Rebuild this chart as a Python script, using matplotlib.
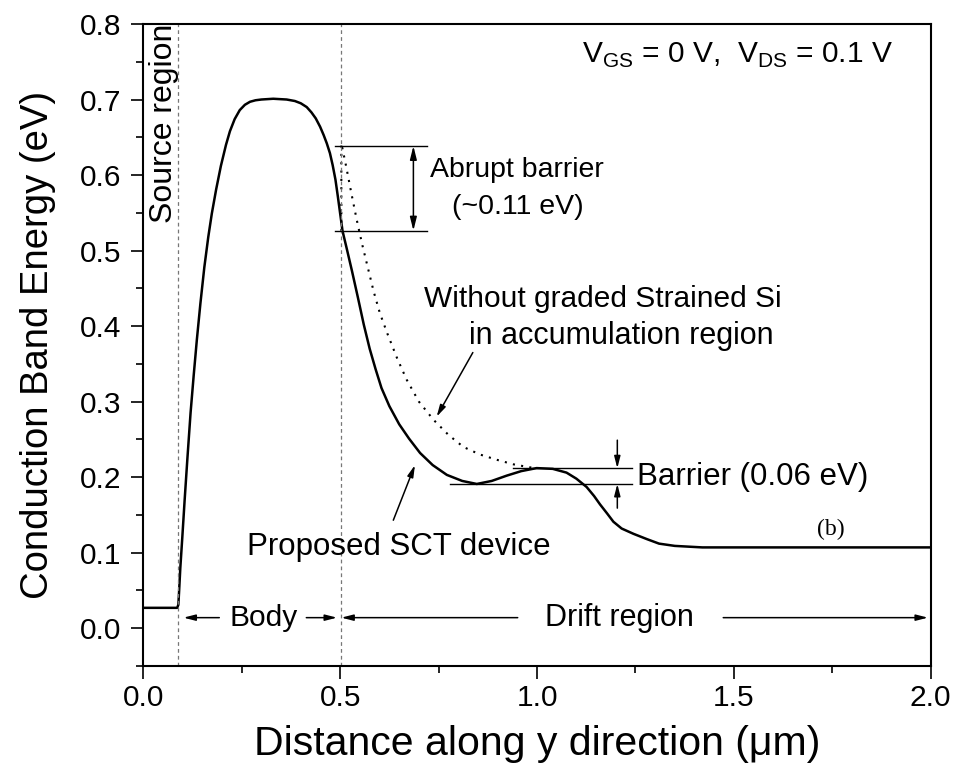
import matplotlib

matplotlib.use("Agg")
import matplotlib.pyplot as plt
from matplotlib.ticker import MultipleLocator


# proposed SCT device, conduction band edge along y (um, eV)
SCT_X = [0.0, 0.086, 0.089, 0.091, 0.094, 0.099, 0.105, 0.112, 0.120, 0.128,
         0.136, 0.145, 0.155, 0.165, 0.174, 0.185, 0.197, 0.210, 0.220, 0.232,
         0.245, 0.258, 0.271, 0.285, 0.300, 0.330, 0.364, 0.385, 0.400, 0.415,
         0.427, 0.438, 0.449, 0.458, 0.466, 0.474, 0.481, 0.488, 0.494, 0.500,
         0.506, 0.517, 0.530, 0.545, 0.560, 0.575, 0.590, 0.605, 0.625, 0.650,
         0.675, 0.703, 0.735, 0.771, 0.810, 0.847, 0.885, 0.923, 0.960, 0.999,
         1.040, 1.075, 1.100, 1.126, 1.145, 1.160, 1.178, 1.194, 1.215, 1.245,
         1.279, 1.310, 1.350, 1.420, 2.0]
SCT_Y = [0.027, 0.027, 0.031, 0.050, 0.080, 0.120, 0.170, 0.225, 0.285, 0.335,
         0.382, 0.430, 0.478, 0.518, 0.549, 0.581, 0.612, 0.640, 0.658, 0.674,
         0.686, 0.693, 0.697, 0.699, 0.700, 0.701, 0.700, 0.698, 0.695, 0.690,
         0.683, 0.675, 0.664, 0.653, 0.642, 0.629, 0.613, 0.594, 0.572, 0.549,
         0.526, 0.502, 0.473, 0.438, 0.402, 0.370, 0.343, 0.318, 0.294, 0.270,
         0.251, 0.232, 0.216, 0.203, 0.195, 0.191, 0.195, 0.202, 0.208, 0.212,
         0.211, 0.206, 0.198, 0.187, 0.175, 0.164, 0.152, 0.141, 0.132, 0.125,
         0.118, 0.112, 0.109, 0.107, 0.107]

# without graded strained Si (abrupt barrier at the body/drift edge)
FLAT_X = [0.503, 0.503, 0.515, 0.528, 0.542, 0.556, 0.570, 0.585, 0.601, 0.620,
          0.645, 0.669, 0.700, 0.737, 0.775, 0.813, 0.855, 0.898, 0.940, 0.982,
          1.000]
FLAT_Y = [0.526, 0.642, 0.612, 0.577, 0.541, 0.508, 0.478, 0.446, 0.417, 0.390,
          0.357, 0.329, 0.300, 0.276, 0.256, 0.240, 0.230, 0.223, 0.217, 0.213,
          0.212]

SOURCE_EDGE = 0.089
BODY_EDGE = 0.502

ABRUPT_TOP = 0.6385
ABRUPT_BOTTOM = 0.5264
BARRIER_TOP = 0.2118
BARRIER_BOTTOM = 0.191

X_TICKS = [0.0, 0.5, 1.0, 1.5, 2.0]
Y_TICKS = [0.0, 0.1, 0.2, 0.3, 0.4, 0.5, 0.6, 0.7, 0.8]

plt.rcParams["font.family"] = ["Liberation Sans", "DejaVu Sans"]
plt.rcParams["mathtext.fontset"] = "custom"
plt.rcParams["mathtext.rm"] = "Liberation Sans"

TXT = 20.5
ARROW = dict(arrowstyle="-|>,head_length=0.7,head_width=0.18", color="black",
             lw=1.1, shrinkA=0, shrinkB=0)


def arrow(ax, tail, head):
    ax.annotate("", xy=head, xytext=tail, arrowprops=ARROW)


def main() -> int:
    fig = plt.figure(figsize=(9.58, 7.71), dpi=100)
    ax = fig.add_axes([0.1496, 0.1362, 0.8219, 0.8327])

    ax.plot(SCT_X, SCT_Y, color="black", lw=1.8, solid_joinstyle="round")
    ax.plot(FLAT_X, FLAT_Y, color="black", lw=1.5, linestyle=(0, (1, 3.0)))

    for x in (SOURCE_EDGE, BODY_EDGE):
        ax.axvline(x, color="#777777", lw=0.9, linestyle=(0, (3, 2.5)))

    # abrupt barrier marker
    for y in (ABRUPT_TOP, ABRUPT_BOTTOM):
        ax.plot([0.487, 0.720], [y, y], color="black", lw=1.0)
    ax.annotate("", xy=(0.686, ABRUPT_BOTTOM), xytext=(0.686, ABRUPT_TOP),
                arrowprops=dict(ARROW, arrowstyle="<|-|>,head_length=0.8,head_width=0.2"))
    ax.text(0.95, 0.598, "Abrupt barrier", fontsize=TXT, ha="center", va="baseline")
    ax.text(0.95, 0.548, "(~0.11 eV)", fontsize=TXT, ha="center", va="baseline")

    # small barrier marker
    ax.plot([0.940, 1.2405], [BARRIER_TOP, BARRIER_TOP], color="black", lw=1.0)
    ax.plot([0.779, 1.2405], [BARRIER_BOTTOM, BARRIER_BOTTOM], color="black", lw=1.0)
    arrow(ax, (1.204, 0.249), (1.204, BARRIER_TOP))
    arrow(ax, (1.204, 0.159), (1.204, BARRIER_BOTTOM))
    ax.text(1.255, 0.19, "Barrier (0.06 eV)", fontsize=22.5, ha="left", va="baseline")

    ax.text(1.168, 0.4256, "Without graded Strained Si", fontsize=21.5,
            ha="center", va="baseline")
    ax.text(1.215, 0.376, "in accumulation region", fontsize=22,
            ha="center", va="baseline")
    arrow(ax, (0.837, 0.365), (0.745, 0.280))

    ax.text(0.649, 0.097, "Proposed SCT device", fontsize=22.5, ha="center", va="baseline")
    arrow(ax, (0.635, 0.143), (0.690, 0.216))

    ax.text(1.747, 0.124, "(b)", fontsize=17, family="Liberation Serif",
            ha="center", va="baseline")

    ax.text(1.905, 0.749, r"V$_{\rm GS}$ = 0 V,  V$_{\rm DS}$ = 0.1 V",
            fontsize=21.5, ha="right", va="baseline")

    ax.text(0.053, 0.536, "Source region", fontsize=23, rotation=90,
            ha="center", va="bottom", clip_on=False)

    # region arrows along the bottom
    arrow_y = 0.014
    arrow(ax, (0.193, arrow_y), (0.102, arrow_y))
    arrow(ax, (0.414, arrow_y), (0.492, arrow_y))
    ax.text(0.305, 0.003, "Body", fontsize=21.5, ha="center", va="baseline")
    arrow(ax, (0.951, arrow_y), (0.503, arrow_y))
    arrow(ax, (1.473, arrow_y), (1.993, arrow_y))
    ax.text(1.21, 0.003, "Drift region", fontsize=22, ha="center", va="baseline")

    ax.set_xlim(0.0, 2.0)
    ax.set_ylim(-0.05, 0.8)
    ax.set_xticks(X_TICKS)
    ax.set_yticks(Y_TICKS)
    ax.set_xticklabels([f"{v:.1f}" for v in X_TICKS])
    ax.set_yticklabels([f"{v:.1f}" for v in Y_TICKS])
    ax.xaxis.set_minor_locator(MultipleLocator(0.25))
    ax.yaxis.set_minor_locator(MultipleLocator(0.05))
    ax.tick_params(which="major", direction="out", length=9, width=1.2,
                   labelsize=21.5, pad=7, top=False, right=False)
    ax.tick_params(axis="x", which="major", pad=4)
    ax.tick_params(which="minor", direction="out", length=5, width=1.2,
                   top=False, right=False)
    for spine in ax.spines.values():
        spine.set_linewidth(1.5)

    ax.set_xlabel("Distance along y direction (\u03bcm)", fontsize=29.5, labelpad=9)
    ax.set_ylabel("Conduction Band Energy (eV)", fontsize=27.5, labelpad=17)

    fig.savefig("out.png", dpi=100)
    plt.close(fig)
    return 0


if __name__ == "__main__":
    raise SystemExit(main())
